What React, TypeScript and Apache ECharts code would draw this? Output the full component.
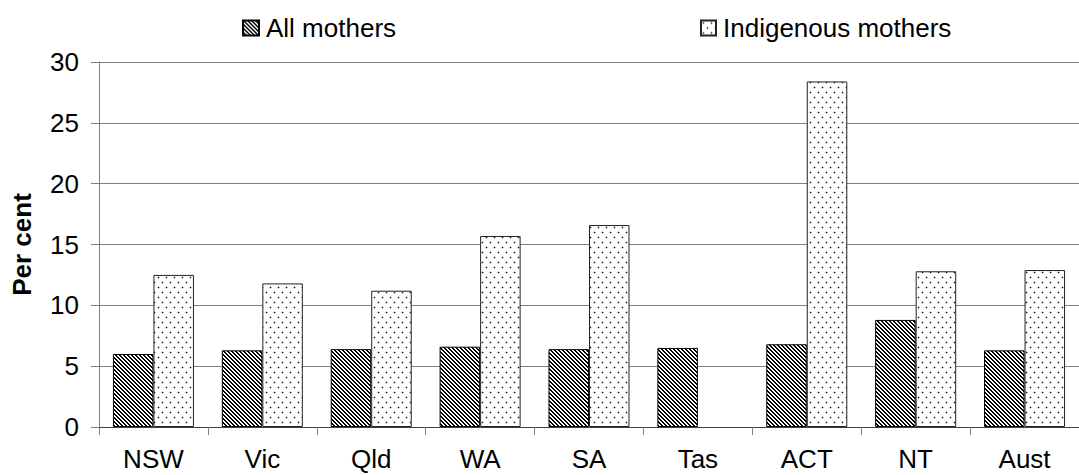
import { useEffect, useRef } from 'react';
import * as echarts from 'echarts';

// Categories along the x axis
const categories = ['NSW', 'Vic', 'Qld', 'WA', 'SA', 'Tas', 'ACT', 'NT', 'Aust'];

// Per cent of mothers, by state/territory
const allMothers = [6.0, 6.3, 6.4, 6.6, 6.4, 6.5, 6.8, 8.8, 6.3];
const indigenousMothers: (number | null)[] = [12.5, 11.8, 11.2, 15.7, 16.6, null, 28.4, 12.8, 12.9];

// Value axis range
const yMin = 0;
const yMax = 30;
const yStep = 5;

const FONT = 'Arial, "Liberation Sans", sans-serif';
const FONT_SIZE = 26;

// Diagonal black/white stripes running top-left to bottom-right
function makeHatch(): HTMLCanvasElement {
  const n = 4;
  const c = document.createElement('canvas');
  c.width = n;
  c.height = n;
  const ctx = c.getContext('2d')!;
  ctx.fillStyle = '#ffffff';
  ctx.fillRect(0, 0, n, n);
  ctx.fillStyle = '#000000';
  for (let y = 0; y < n; y++) {
    for (let x = 0; x < n; x++) {
      const d = (((x - y) % n) + n) % n;
      if (d === 0 || d === 1) ctx.fillRect(x, y, 1, 1);
    }
  }
  return c;
}

// Sparse staggered grey dots on white
function makeDots(): HTMLCanvasElement {
  const w = 8;
  const h = 10;
  const c = document.createElement('canvas');
  c.width = w;
  c.height = h;
  const ctx = c.getContext('2d')!;
  ctx.fillStyle = '#ffffff';
  ctx.fillRect(0, 0, w, h);
  const dot = (x: number, y: number) => {
    ctx.fillStyle = '#b8b8b8';
    ctx.fillRect(x - 1, y, 3, 1);
    ctx.fillRect(x, y - 1, 1, 3);
    ctx.fillStyle = '#222222';
    ctx.fillRect(x, y, 1, 1);
  };
  dot(2, 2);
  dot(6, 7);
  return c;
}

export default function App() {
  const ref = useRef<HTMLDivElement>(null);

  useEffect(() => {
    if (!ref.current) return;
    const chart = echarts.init(ref.current, undefined, { renderer: 'svg' });
    const hatch = { image: makeHatch(), repeat: 'repeat' as const };
    const dots = { image: makeDots(), repeat: 'repeat' as const };

    const legendText = { fontFamily: FONT, fontSize: FONT_SIZE, color: '#000', padding: [0, 0, 0, 2] };

    chart.setOption({
      animation: false,
      backgroundColor: '#ffffff',
      textStyle: { fontFamily: FONT, color: '#000' },
      legend: [
        {
          data: ['All mothers'],
          left: 237,
          top: 10,
          itemWidth: 16,
          itemHeight: 15,
          icon: 'rect',
          textStyle: legendText,
        },
        {
          data: ['Indigenous mothers'],
          left: 695,
          top: 10,
          itemWidth: 15,
          itemHeight: 15,
          icon: 'rect',
          textStyle: legendText,
        },
      ],
      grid: { left: 99, top: 62, width: 993, height: 365, containLabel: false },
      xAxis: {
        type: 'category',
        data: categories,
        axisLine: { lineStyle: { color: '#404040', width: 1 } },
        axisTick: { show: true, length: 8, lineStyle: { color: '#808080' } },
        axisLabel: { fontFamily: FONT, fontSize: FONT_SIZE, color: '#000', margin: 19 },
      },
      yAxis: {
        type: 'value',
        min: yMin,
        max: yMax,
        interval: yStep,
        name: 'Per cent',
        nameLocation: 'middle',
        nameGap: 64,
        nameTextStyle: { fontFamily: FONT, fontSize: FONT_SIZE, fontWeight: 'bold', color: '#000' },
        axisLine: { show: true, lineStyle: { color: '#808080', width: 1 } },
        axisTick: { show: true, length: 8, lineStyle: { color: '#808080' } },
        axisLabel: { fontFamily: FONT, fontSize: FONT_SIZE, color: '#000', margin: 20 },
        splitLine: { show: true, lineStyle: { color: '#808080', width: 1 } },
      },
      series: [
        {
          name: 'All mothers',
          type: 'bar',
          data: allMothers,
          barGap: '0%',
          barCategoryGap: '25.6%',
          itemStyle: { color: hatch, borderColor: '#000', borderWidth: 1 },
        },
        {
          name: 'Indigenous mothers',
          type: 'bar',
          data: indigenousMothers,
          barGap: '0%',
          barCategoryGap: '25.6%',
          itemStyle: { color: dots, borderColor: '#222', borderWidth: 1 },
        },
      ],
    });

    return () => chart.dispose();
  }, []);

  return (
    <div
      ref={ref}
      style={{ position: 'absolute', left: 0, top: 0, width: 1079, height: 475 }}
    />
  );
}
